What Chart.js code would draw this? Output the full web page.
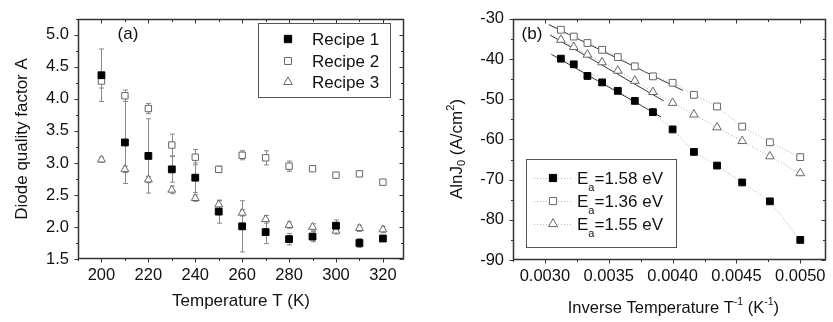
<!DOCTYPE html>
<html>
<head>
<meta charset="utf-8">
<script src="https://cdn.jsdelivr.net/npm/chart.js@4.4.0/dist/chart.umd.min.js"></script>
<style>
    body { margin: 0; background: #fff; width: 833px; height: 322px; position: relative; overflow: hidden; }
    #chartA { position: absolute; left: 0; top: 0; }
    #chartB { position: absolute; left: 420px; top: 0; }
</style>
</head>
<body>
<canvas id="chartA" width="420" height="322"></canvas>
<canvas id="chartB" width="413" height="322"></canvas>
<script>
// panel (a): diode quality factor vs temperature
var temps = [200, 210, 220, 230, 240, 250, 260, 270, 280, 290, 300, 310, 320];
var recipe1 = [4.37, 3.32, 3.11, 2.90, 2.77, 2.24, 2.01, 1.92, 1.81, 1.85, 2.02, 1.75, 1.82];
var recipe1Err = [0.41, 0.64, 0.58, 0.20, 0.23, 0.18, 0.40, 0.18, 0.09, 0.08, 0.09, 0.07, 0.04];
var recipe2 = [4.28, 4.05, 3.85, 3.28, 3.09, 2.90, 3.12, 3.08, 2.95, 2.91, 2.81, 2.83, 2.70];
var recipe2Err = [0.11, 0.09, 0.08, 0.17, 0.12, 0.05, 0.07, 0.11, 0.08, 0.03, 0.03, 0.03, 0.03];
var recipe3 = [3.05, 2.90, 2.74, 2.58, 2.45, 2.35, 2.22, 2.12, 2.03, 2.00, 1.94, 1.98, 1.96];
var recipe3Err = [0.04, 0.05, 0.05, 0.06, 0.05, 0.06, 0.05, 0.06, 0.05, 0.05, 0.05, 0.05, 0.05];
var tempTicks = [200, 220, 240, 260, 280, 300, 320];
var factorTicks = [1.5, 2.0, 2.5, 3.0, 3.5, 4.0, 4.5, 5.0];
var recipeNames = ['Recipe 1', 'Recipe 2', 'Recipe 3'];

// panel (b): A ln J0 vs inverse temperature
var invTemp = [0.003125, 0.003226, 0.003333, 0.003448, 0.003571, 0.003704, 0.003846, 0.004, 0.004167, 0.004348, 0.004545, 0.004762, 0.005];
var lnJ158 = [-39.9, -41.3, -44.2, -45.8, -47.9, -50.4, -53.2, -57.5, -63.1, -66.5, -70.7, -75.4, -85.0];
var lnJ136 = [-32.7, -34.4, -36.0, -37.7, -39.5, -41.8, -44.3, -45.9, -48.9, -51.8, -56.8, -60.7, -64.4];
var lnJ155 = [-35.2, -37.0, -38.9, -40.8, -42.9, -45.4, -48.2, -50.9, -53.8, -57.0, -60.4, -64.2, -68.4];
var fitX158 = [0.00305, 0.00391];
var fitY158 = [-38.8, -54.4];
var fitX136 = [0.00303, 0.00408];
var fitY136 = [-31.4, -47.8];
var fitX155 = [0.00304, 0.00393];
var fitY155 = [-34.0, -50.4];
var invTicks = [0.003, 0.0035, 0.004, 0.0045, 0.005];
var lnTicks = [-90, -80, -70, -60, -50, -40, -30];
var energies = ['1.58', '1.36', '1.55'];

var FAMILY = "'Liberation Sans', Arial, sans-serif";
var INK = '#111';
var MARK_GRAY = '#666';
var TEXT_SIZE = 17;

function pts(xs, ys) {
    return xs.map(function (x, i) { return { x: x, y: ys[i] }; });
}

function setTicks(list) {
    return function (scale) {
        scale.ticks = list.map(function (v) { return { value: v }; });
    };
}

// box frame; ticks point out on left/bottom, in on top/right
var framePlugin = {
    id: 'frame',
    afterDraw: function (chart) {
        var ctx = chart.ctx, a = chart.chartArea;
        var xs = chart.scales.x, ys = chart.scales.y;
        var L = Math.round(a.left) + 0.5, R = Math.round(a.right) - 0.5;
        var T = Math.round(a.top) + 0.5, B = Math.round(a.bottom) - 0.5;
        ctx.save();
        ctx.strokeStyle = '#333';
        ctx.lineWidth = 1;

        function marks(scale, horizontal) {
            var vals = scale.ticks.map(function (t) { return t.value; });
            var step = vals[1] - vals[0];
            var v, len, p;
            for (v = vals[0] - step; v <= scale.max + 1e-12; v += step / 2) {
                if (v < scale.min - 1e-12) continue;
                var isMajor = vals.some(function (m) { return Math.abs(m - v) < step * 1e-3; });
                len = isMajor ? 4 : 2.5;
                p = Math.round(scale.getPixelForValue(v)) + 0.5;
                ctx.beginPath();
                if (horizontal) {
                    ctx.moveTo(p, B); ctx.lineTo(p, B + len);
                    ctx.moveTo(p, T); ctx.lineTo(p, T + len);
                } else {
                    ctx.moveTo(L, p); ctx.lineTo(L - len, p);
                    ctx.moveTo(R, p); ctx.lineTo(R - len, p);
                }
                ctx.stroke();
            }
        }
        marks(xs, true);
        marks(ys, false);

        ctx.lineWidth = 1.5;
        ctx.strokeRect(L, T, R - L, B - T);
        ctx.restore();
    }
};

// vertical error bars read from dataset.errors
var errorPlugin = {
    id: 'errors',
    beforeDatasetsDraw: function (chart) {
        var ctx = chart.ctx, xs = chart.scales.x, ys = chart.scales.y;
        ctx.save();
        ctx.strokeStyle = '#888';
        ctx.lineWidth = 1;
        chart.data.datasets.forEach(function (ds) {
            if (!ds.errors) return;
            ds.data.forEach(function (p, i) {
                var px = Math.round(xs.getPixelForValue(p.x)) + 0.5;
                var top = ys.getPixelForValue(p.y + ds.errors[i]);
                var bot = ys.getPixelForValue(p.y - ds.errors[i]);
                ctx.beginPath();
                ctx.moveTo(px, top); ctx.lineTo(px, bot);
                ctx.moveTo(px - 2.5, top); ctx.lineTo(px + 2.5, top);
                ctx.moveTo(px - 2.5, bot); ctx.lineTo(px + 2.5, bot);
                ctx.stroke();
            });
        });
        ctx.restore();
    }
};

function drawMarker(ctx, style, fill, stroke, radius, x, y) {
    ctx.save();
    ctx.fillStyle = fill;
    ctx.strokeStyle = stroke;
    ctx.lineWidth = 1;
    Chart.helpers.drawPoint(ctx, { pointStyle: style, radius: radius, rotation: 0, borderWidth: 1 }, x, y);
    ctx.restore();
}

var legendA = {
    id: 'legendA',
    afterDraw: function (chart) {
        var ctx = chart.ctx;
        ctx.save();
        ctx.strokeStyle = '#555';
        ctx.lineWidth = 1;
        ctx.strokeRect(258.5, 23.5, 132, 74);
        ctx.font = TEXT_SIZE + 'px ' + FAMILY;
        ctx.fillStyle = INK;
        ctx.textBaseline = 'middle';
        var rows = [39, 61, 82];
        recipeNames.forEach(function (name, i) {
            var ds = chart.data.datasets[i];
            drawMarker(ctx, ds.pointStyle, ds.backgroundColor, ds.borderColor, ds.pointRadius + 0.4, 288, rows[i]);
            ctx.fillText(name, 312, rows[i] + 1);
        });
        ctx.textAlign = 'center';
        ctx.fillText('(a)', 128, 34);
        ctx.restore();
    }
};

var legendB = {
    id: 'legendB',
    afterDraw: function (chart) {
        var ctx = chart.ctx, a = chart.chartArea;
        ctx.save();
        ctx.strokeStyle = '#555';
        ctx.lineWidth = 1;
        ctx.strokeRect(106.5, 159.5, 150, 88);
        var rows = [178, 201, 224];
        energies.forEach(function (e, i) {
            var ds = chart.data.datasets[i];
            ctx.save();
            ctx.strokeStyle = '#bbb';
            ctx.setLineDash([1, 2]);
            ctx.beginPath();
            ctx.moveTo(114, rows[i] + 0.5); ctx.lineTo(153, rows[i] + 0.5);
            ctx.stroke();
            ctx.restore();
            drawMarker(ctx, ds.pointStyle, ds.pointBackgroundColor, ds.pointBorderColor, ds.pointRadius + 0.3, 133, rows[i]);
            ctx.fillStyle = INK;
            ctx.textBaseline = 'middle';
            ctx.font = TEXT_SIZE + 'px ' + FAMILY;
            ctx.fillText('E', 157, rows[i] + 1);
            var w = ctx.measureText('E').width;
            ctx.font = '11px ' + FAMILY;
            ctx.fillText('a', 157 + w, rows[i] + 10);
            var w2 = ctx.measureText('a').width;
            ctx.font = TEXT_SIZE + 'px ' + FAMILY;
            ctx.fillText('=' + e + ' eV', 157 + w + w2, rows[i] + 1);
        });

        ctx.fillStyle = INK;
        ctx.textAlign = 'center';
        ctx.textBaseline = 'middle';
        ctx.font = TEXT_SIZE + 'px ' + FAMILY;
        ctx.fillText('(b)', 112, 34);

        // axis titles with sub/superscripts
        function drawRuns(parts, cx, cy) {
            var total = 0;
            parts.forEach(function (p) {
                ctx.font = p.size + 'px ' + FAMILY;
                p.w = ctx.measureText(p.t).width;
                total += p.w;
            });
            var x = cx - total / 2;
            ctx.textAlign = 'left';
            parts.forEach(function (p) {
                ctx.font = p.size + 'px ' + FAMILY;
                ctx.fillText(p.t, x, cy + p.dy);
                x += p.w;
            });
        }
        drawRuns([
            { t: 'Inverse Temperature T', size: 16.5, dy: 0 },
            { t: '-1', size: 10.5, dy: -6 },
            { t: ' (K', size: 16.5, dy: 0 },
            { t: '-1', size: 10.5, dy: -6 },
            { t: ')', size: 16.5, dy: 0 }
        ], (a.left + a.right) / 2 + 4, 308);

        ctx.save();
        ctx.translate(37, 149);
        ctx.rotate(-Math.PI / 2);
        drawRuns([
            { t: 'AlnJ', size: TEXT_SIZE, dy: 0 },
            { t: '0', size: 11, dy: 5 },
            { t: ' (A/cm', size: TEXT_SIZE, dy: 0 },
            { t: '2', size: 11, dy: -6 },
            { t: ')', size: TEXT_SIZE, dy: 0 }
        ], 0, 0);
        ctx.restore();
        ctx.restore();
    }
};

var tickFont = { family: FAMILY, size: 16.5 };
var titleFont = { family: FAMILY, size: TEXT_SIZE };

new Chart(document.getElementById('chartA'), {
    type: 'scatter',
    data: {
        datasets: [
            { label: recipeNames[0], data: pts(temps, recipe1), errors: recipe1Err,
              pointStyle: 'rect', pointRadius: 4.8, backgroundColor: '#000', borderColor: '#000', borderWidth: 1 },
            { label: recipeNames[1], data: pts(temps, recipe2), errors: recipe2Err,
              pointStyle: 'rect', pointRadius: 4.5, backgroundColor: '#fff', borderColor: MARK_GRAY, borderWidth: 1 },
            { label: recipeNames[2], data: pts(temps, recipe3), errors: recipe3Err,
              pointStyle: 'triangle', pointRadius: 4.6, backgroundColor: '#fff', borderColor: MARK_GRAY, borderWidth: 1 }
        ]
    },
    options: {
        responsive: false,
        animation: false,
        events: [],
        layout: { padding: { top: 12, right: 16, left: 0, bottom: 0 } },
        plugins: { legend: { display: false }, tooltip: { enabled: false } },
        scales: {
            x: {
                type: 'linear', min: 190, max: 329,
                grid: { display: false, drawTicks: false }, border: { display: false },
                afterBuildTicks: setTicks(tempTicks),
                afterFit: function (s) { s.height = 63; },
                ticks: { font: tickFont, color: INK, padding: 7, maxRotation: 0, autoSkip: false },
                title: { display: true, text: 'Temperature T (K)', font: titleFont, color: INK, padding: { top: 0, bottom: 10 } }
            },
            y: {
                type: 'linear', min: 1.5, max: 5.25,
                grid: { display: false, drawTicks: false }, border: { display: false },
                afterBuildTicks: setTicks(factorTicks),
                afterFit: function (s) { s.width = 78; },
                ticks: { font: tickFont, color: INK, padding: 9, autoSkip: false,
                         callback: function (v) { return v.toFixed(1); } },
                title: { display: true, text: 'Diode quality factor A', font: titleFont, color: INK, padding: { top: 12, bottom: 0 } }
            }
        }
    },
    plugins: [errorPlugin, framePlugin, legendA]
});

new Chart(document.getElementById('chartB'), {
    type: 'scatter',
    data: {
        datasets: [
            { label: 'Ea=1.58 eV', data: pts(invTemp, lnJ158), showLine: true,
              borderDash: [1, 2], borderColor: '#aaa', borderWidth: 1,
              pointStyle: 'rect', pointRadius: 4.8, pointBorderColor: '#000', pointBackgroundColor: '#000' },
            { label: 'Ea=1.36 eV', data: pts(invTemp, lnJ136), showLine: true,
              borderDash: [1, 2], borderColor: '#aaa', borderWidth: 1,
              pointStyle: 'rect', pointRadius: 4.8, pointBorderColor: MARK_GRAY, pointBackgroundColor: '#fff' },
            { label: 'Ea=1.55 eV', data: pts(invTemp, lnJ155), showLine: true,
              borderDash: [1, 2], borderColor: '#aaa', borderWidth: 1,
              pointStyle: 'triangle', pointRadius: 5, pointBorderColor: MARK_GRAY, pointBackgroundColor: '#fff' },
            { data: pts(fitX158, fitY158), showLine: true, pointRadius: 0, borderColor: '#333', borderWidth: 1 },
            { data: pts(fitX136, fitY136), showLine: true, pointRadius: 0, borderColor: '#333', borderWidth: 1 },
            { data: pts(fitX155, fitY155), showLine: true, pointRadius: 0, borderColor: '#333', borderWidth: 1 }
        ]
    },
    options: {
        responsive: false,
        animation: false,
        events: [],
        layout: { padding: { top: 13, right: 1, left: 0, bottom: 0 } },
        plugins: { legend: { display: false }, tooltip: { enabled: false } },
        scales: {
            x: {
                type: 'linear', min: 0.00275, max: 0.0052,
                grid: { display: false, drawTicks: false }, border: { display: false },
                afterBuildTicks: setTicks(invTicks),
                afterFit: function (s) { s.height = 62; },
                ticks: { font: tickFont, color: INK, padding: 7, maxRotation: 0, autoSkip: false,
                         callback: function (v) { return v.toFixed(4); } }
            },
            y: {
                type: 'linear', min: -90, max: -30,
                grid: { display: false, drawTicks: false }, border: { display: false },
                afterBuildTicks: setTicks(lnTicks),
                afterFit: function (s) { s.width = 93; },
                ticks: { font: tickFont, color: INK, padding: 9, autoSkip: false }
            }
        }
    },
    plugins: [framePlugin, legendB]
});
</script>
</body>
</html>
